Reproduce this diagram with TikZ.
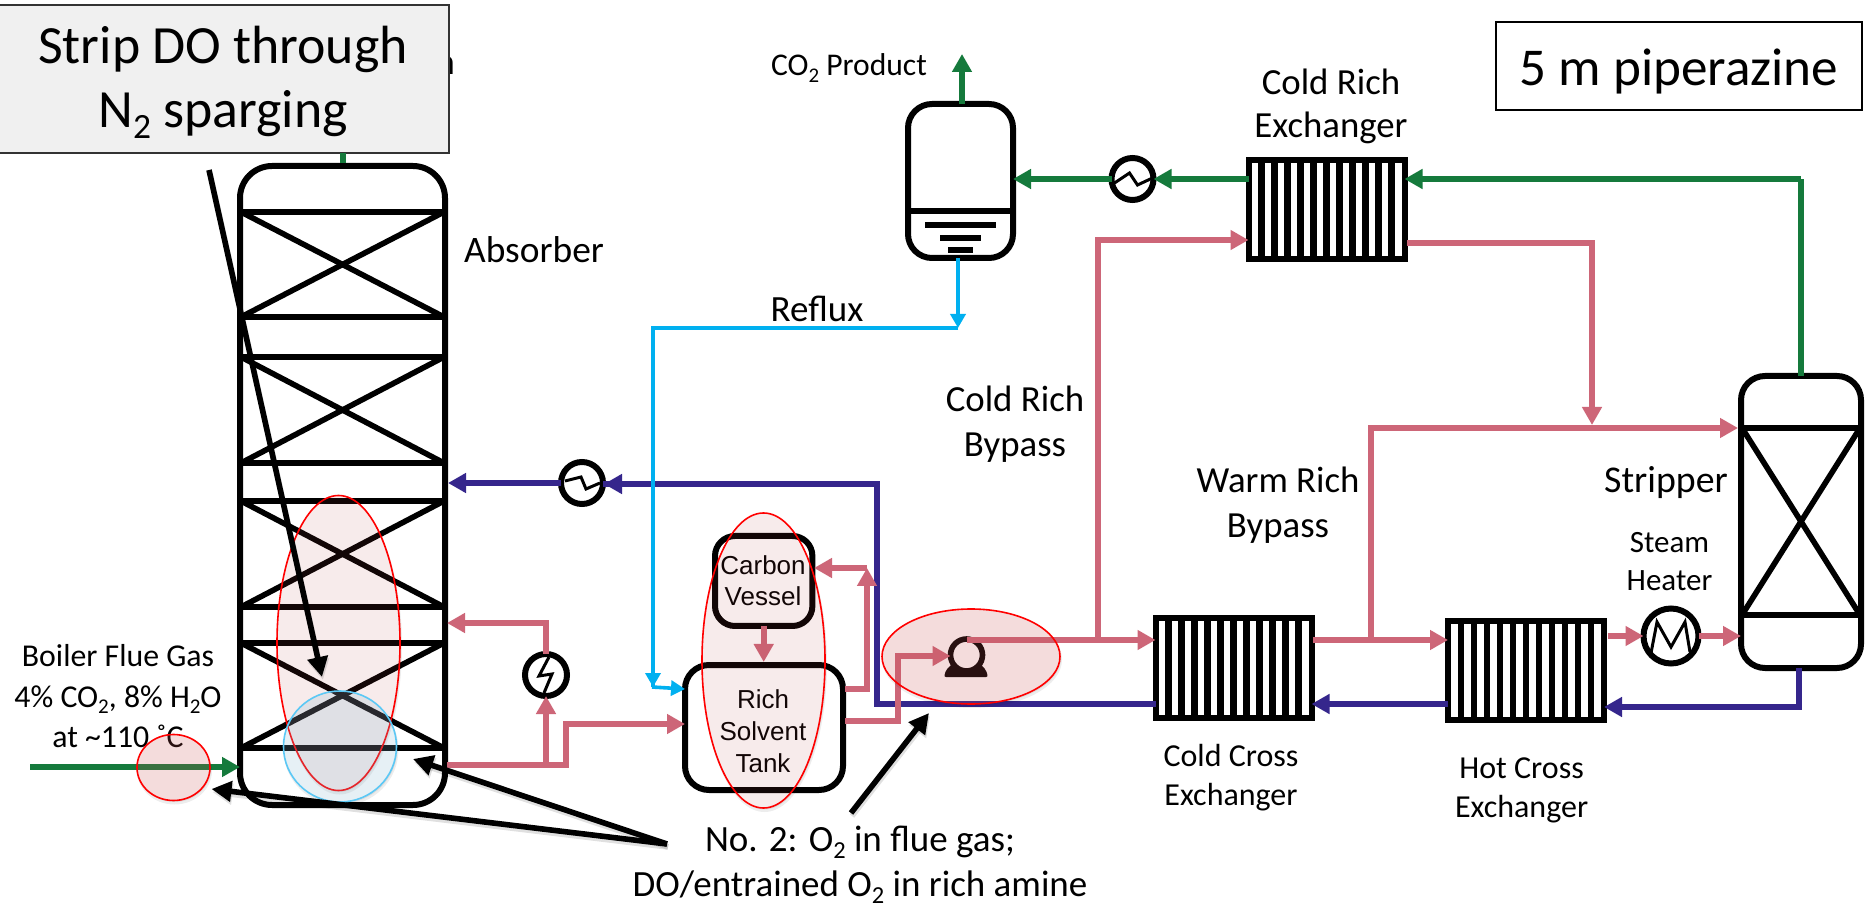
\documentclass[tikz,border=0pt]{standalone}
\usepackage{fontspec}
\usepackage{graphicx}
\setmainfont{Carlito}
\newfontfamily\arialfont{Liberation Sans}
\usetikzlibrary{arrows.meta,calc}
\definecolor{pinkline}{HTML}{CD6678}
\definecolor{dkblue}{HTML}{35268C}
\definecolor{grn}{HTML}{157A3C}
\definecolor{cyanl}{HTML}{00B0F0}
\definecolor{blueo}{HTML}{5BC8F5}
\definecolor{hlredfill}{HTML}{B94141}
\definecolor{hlstrongfill}{HTML}{C85050}
\definecolor{hlbluefill}{HTML}{82B4CD}
\newcommand{\sbt}{\raisebox{-0.4ex}{\scalebox{0.66}{2}}}
\newcommand{\softshade}[4]{%
  \begin{scope}[even odd rule]
    \clip (-10,-10) rectangle (1884,918) (#1,#2) ellipse [x radius=#3, y radius=#4];
    \fill[black,opacity=.07] (#1+1,#2+3) ellipse [x radius=#3+1, y radius=#4+1];
    \fill[black,opacity=.07] (#1+1,#2+1.5) ellipse [x radius=#3, y radius=#4];
  \end{scope}}
\tikzset{
  x=0.5pt,y=-0.5pt,
  vessel/.style={draw=black,line width=3pt,inner sep=0pt,outer sep=0pt,rounded corners=#1},
  vessel/.default=12pt,
  bar/.style={line width=3pt,black},
  xbar/.style={line width=2.8pt,black},
  hxbox/.style={draw=black,fill=white,line width=3pt,inner sep=0pt,outer sep=0pt,minimum width=78pt,minimum height=49.5pt},
  stripe/.style={line width=3.1pt,black},
  hxc/.style={circle,draw=black,line width=3pt,inner sep=0pt,outer sep=0pt,minimum size=21pt,fill=white},
  zig/.style={line width=1.5pt,black,line join=miter},
  pinkf/.style={line width=3pt,pinkline,-{Triangle[length=9pt,width=9.5pt]}},
  pinkp/.style={line width=3pt,pinkline},
  bluef/.style={line width=3pt,dkblue,-{Triangle[length=9pt,width=9.5pt]}},
  bluep/.style={line width=3pt,dkblue},
  grnf/.style={line width=3pt,grn,-{Triangle[length=9pt,width=9.5pt]}},
  cyanf/.style={line width=1.8pt,cyanl,-{Triangle[length=7pt,width=7.5pt]}},
  note/.style={line width=2.8pt,black,-{Triangle[length=10pt,width=10pt]},
    preaction={draw=black,opacity=.12,line width=2.8pt,-{Triangle[length=10pt,width=10pt]},transform canvas={xshift=0.5pt,yshift=-1.5pt}}},
  lbl/.style={align=center,inner sep=0pt,outer sep=0pt,text=black,anchor=base},
  hlr/.style={draw=red,line width=.8pt,fill=hlredfill,fill opacity=.1},
  hls/.style={draw=red,line width=.8pt,fill=hlstrongfill,fill opacity=.2},
  hlb/.style={draw=blueo,line width=.8pt,fill=hlbluefill,fill opacity=.2},
}
\begin{document}
\begin{tikzpicture}
\useasboundingbox[fill=white] (0,0) rectangle (1874,908);

% --- equipment ---
\node[vessel=16pt,minimum width=102.5pt,minimum height=319.5pt] (abs) at (342.5,485.5) {};
\foreach \y in {212,317,357,463,501,607,643,748} \draw[bar] (240,\y) -- (445,\y);
\foreach \a/\b in {212/317,357/463,501/607,643/748} {
  \draw[xbar] (241,\a) -- (444,\b);
  \draw[xbar] (241,\b) -- (444,\a);
}
\node[vessel=12pt,minimum width=60pt,minimum height=146pt] (strp) at (1801,522) {};
\foreach \y in {428,615} \draw[bar] (1741,\y) -- (1861,\y);
\draw[xbar] (1742,428) -- (1860,615);
\draw[xbar] (1742,615) -- (1860,428);

\node[vessel=12pt,minimum width=52.5pt,minimum height=77pt] (drum) at (960.5,181) {};
\draw[bar] (908,211) -- (1013,211);
\fill[black] (925,222) rectangle (996,228);
\fill[black] (940,235) rectangle (981,241);
\fill[black] (947.5,247) rectangle (973,253);

\node[vessel=12pt,minimum width=79pt,minimum height=62.5pt] (tank) at (764,727.5) {};
\node[vessel=10pt,minimum width=48.7pt,minimum height=45pt] (carbon) at (763.7,581) {};

\foreach \nm/\cx/\cy in {ccx/1233.5/668, hcx/1526/670.5, crx/1326.5/209.5} {
  \node[hxbox] (\nm) at (\cx,\cy) {};
  \foreach \k in {1,...,11}
    \draw[stripe] ($(\nm.north west)+(\k*13,0)$) -- ($(\nm.south west)+(\k*13,0)$);
}

\node[hxc] (hxa) at (582,483) {};
\draw[zig] ($(hxa)+(-17,-2)$) -- ++(16,-4) -- ++(5,12) -- ++(14,-6);
\node[hxc] (hxb) at (546,675) {};
\draw[zig] ($(hxb)+(3,-18)$) -- ++(-10,19) -- ++(13,-2) -- ++(-8,19);
\node[hxc] (hxc) at (1132.5,179) {};
\draw[zig] ($(hxc)+(-18,4)$) -- ++(15,-10) -- ++(8,12) -- ++(15,-7);
\node[hxc,minimum size=27.5pt] (htr) at (1671,636) {};
\draw[zig] ($(htr)+(-20,17)$) -- ++(6,-31) -- ++(14,25) -- ++(14,-25) -- ++(5,30);

% --- streams ---
\coordinate (fgin) at (30,767);
\draw[grnf] (fgin) -- (fgin -| abs.west);
\coordinate (absout) at (447,765);
\coordinate (ja) at (546,765);
\coordinate (jb) at (566,765);
\coordinate (jc) at (566,724);
\draw[pinkf] (absout) -- (jb) -- (jc) -- (jc -| tank.west);
\draw[pinkf] (ja) -- (hxb.south);
\coordinate (jd) at (546,623);
\coordinate (absin) at (447,623);
\draw[pinkf] (hxb.north) -- (jd) -- (absin);

\coordinate (lean) at (877,704);
\coordinate (leanb) at (877,484);
\coordinate (absl) at (448,483);
\draw[bluep] (ccx.west |- lean) -- (lean) -- (leanb) -- (hxa.east |- leanb);
\draw[bluef] (leanb) -- ($(hxa.east)+(1,1)$);
\draw[bluef] (hxa.west) -- (absl);

% tank / carbon vessel
\draw[pinkf] (carbon.south) -- (carbon.south |- 0,662);
\coordinate (ta) at (845,689);
\coordinate (tb) at (867,689);
\coordinate (tc) at (867,568);
\coordinate (cvin) at (814,568);
\draw[pinkf] (ta) -- (tb) -- (tc);
\draw[pinkf] (tc) -- (cvin);
\coordinate (te) at (845,721);
\coordinate (tf) at (897.6,721);
\coordinate (tg) at (897.6,656);

% pump
\path[fill=black,rounded corners=1pt] (944,677) -- (988,677) -- (986,670) -- (976,660) -- (956,660) -- (946,670) -- cycle;
\node[circle,draw=black,line width=2.8pt,fill=white,inner sep=0pt,outer sep=0pt,minimum size=16pt] (pump) at (966.5,655) {};
\draw[pinkf] (te) -- (tf) -- (tg) -- (pump.west |- tg);
\coordinate (pout) at (966.5,640);
\coordinate (jf) at (1098,640);
\draw[pinkf] (pout) -- (ccx.west |- pout);

% cold rich bypass
\coordinate (jg) at (1098,240);
\draw[pinkf] (jf) -- (jg) -- (crx.west |- jg);
% warm rich
\coordinate (wa) at (1313,640);
\coordinate (wb) at (1371,640);
\coordinate (wc) at (1371,428);
\draw[pinkf] (wa) -- (hcx.west |- wa);
\draw[pinkf] (wb) -- (wc) -- (1738,428);
\coordinate (ra) at (1407,243);
\coordinate (rb) at (1592,243);
\coordinate (rc) at (1592,425);
\draw[pinkf] (ra) -- (rb) -- (rc);
% hot side
\draw[bluef] (hcx.west |- 0,704) -- (ccx.east |- 0,704);
\coordinate (sa) at (1799,668);
\coordinate (sb) at (1799,707);
\draw[bluef] (sa) -- (sb) -- (hcx.east |- sb);
\draw[pinkf] (1607.6,636) -- (htr.west);
\draw[pinkf] (htr.east) -- (1741,636);
% overhead
\coordinate (ova) at (1801,376);
\coordinate (ovb) at (1801,179);
\draw[line width=3pt,grn] (ova) -- (ovb);
\draw[grnf] (ovb) -- (crx.east |- ovb);
\draw[grnf] (crx.west |- hxc) -- (hxc.east);
\draw[grnf] (hxc.west) -- (drum.east |- hxc);
\coordinate (prod) at (962,54);
\draw[grnf] (drum.north -| prod) -- (prod);
% reflux
\coordinate (rfa) at (958,258);
\coordinate (rfb) at (958,328);
\coordinate (rfc) at (653,328);
\coordinate (rfd) at (653,687);
\draw[cyanf] (rfa) -- (rfb);
\draw[line width=1.8pt,cyanl] (rfb) -- (rfc) -- (rfd);
\draw[cyanf] (rfc) -- (rfd);
\draw[cyanf] (652,687) -- (tank.west |- 0,689);

% --- labels ---
\node[lbl,font=\fontsize{18.7}{18.7}\selectfont] (labs) at (534,263) {Absorber};
\node[lbl,font=\fontsize{15.9}{20}\selectfont] (lboil) at (118,747) {Boiler Flue Gas\\4\% CO\sbt, 8\% H\sbt O\\at \textasciitilde110 ˚C};
\node[lbl,font=\fontsize{13}{16}\selectfont\arialfont] (lcarb) at (763,606) {Carbon\\Vessel};
\node[lbl,font=\fontsize{13}{16}\selectfont\arialfont] (ltank) at (763,772) {Rich\\Solvent\\Tank};
\node[lbl,font=\fontsize{15.8}{15.8}\selectfont] (lprod) at (849,76) {CO\sbt\ Product};
\node[lbl,font=\fontsize{18.5}{18.5}\selectfont] (lrefl) at (817,322) {Reflux};
\node[lbl,font=\fontsize{18.4}{21.5}\selectfont] (lcrx) at (1331,138) {Cold Rich\\Exchanger};
\node[lbl,font=\fontsize{18.4}{22.5}\selectfont] (lcrb) at (1015,457) {Cold Rich\\Bypass};
\node[lbl,font=\fontsize{18.4}{22.5}\selectfont] (lwrb) at (1278,538) {Warm Rich\\Bypass};
\node[lbl,font=\fontsize{18.9}{18.9}\selectfont] (lstr) at (1666,493) {Stripper};
\node[lbl,font=\fontsize{15.5}{19}\selectfont] (lsth) at (1669.5,591) {Steam\\Heater};
\node[lbl,font=\fontsize{16}{19.5}\selectfont] (lccx) at (1231,805) {Cold Cross\\Exchanger};
\node[lbl,font=\fontsize{16}{19.5}\selectfont] (lhcx) at (1521.6,817) {Hot Cross\\Exchanger};
\node[lbl,font=\fontsize{18.5}{22.5}\selectfont] (lno) at (860,896) {No. 2: O\sbt\ in flue gas;\\DO/entrained O\sbt\ in rich amine};

\node[draw=black,line width=1.2pt,fill=white,minimum width=183pt,minimum height=44pt,inner sep=0pt] (lpip) at (1679,66) {};
\node[lbl,font=\fontsize{26.6}{26.6}\selectfont] (lpipt) at (1679,86) {5 m piperazine};

% --- highlights ---
\softshade{338.5}{643}{61.5}{147.5}
\draw[hlr] (338.5,643) ellipse [x radius=61.5,y radius=147.5];
\softshade{340}{746.5}{56.5}{55.5}
\draw[hlb] (340,746.5) ellipse [x radius=56.5,y radius=55.5];
\softshade{763.5}{660.5}{61.5}{147.5}
\draw[hlr] (763.5,660.5) ellipse [x radius=61.5,y radius=147.5];
\softshade{971}{656.5}{89}{47.5}
\draw[hls] (971,656.5) ellipse [x radius=89,y radius=47.5];
\softshade{173.5}{767.5}{36.5}{33}
\draw[hls] (173.5,767.5) ellipse [x radius=36.5,y radius=33];

% --- annotation arrows ---
\coordinate (na) at (851,813);
\coordinate (nb) at (929,713);
\coordinate (nc) at (667,844);
\coordinate (nd) at (413,759);
\coordinate (ne) at (211.5,789);
\draw[note] (na) -- (nb);
\draw[note] (nc) -- (nd);
\draw[note] (nc) -- (ne);

% --- callout ---
\node[lbl,anchor=base east,font=\fontsize{18.4}{18.4}\selectfont] (hidden) at (455,75) {h};
\node[draw=black!80,line width=.8pt,fill=black!6,minimum width=225pt,minimum height=74pt,inner sep=0pt,outer sep=0pt] (strip) at (224,79) {};
\node[lbl,font=\fontsize{26.9}{32}\selectfont] (lstrip) at (223,128) {Strip DO through\\N\sbt\ sparging};
\coordinate (sp) at (209,170);
\draw[note] (sp) -- (322,677);
\draw[line width=3pt,grn] (abs.north) -- (abs.north |- strip.south);
\draw[line width=3pt,black] (290,166) -- (390,166);
\end{tikzpicture}
\end{document}
